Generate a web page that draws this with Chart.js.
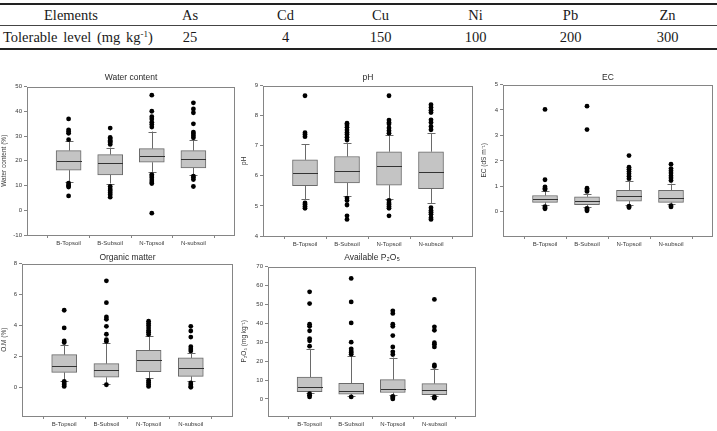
<!DOCTYPE html>
<html><head><meta charset="utf-8">
<script src="https://cdn.jsdelivr.net/npm/chart.js@4.4.1/dist/chart.umd.min.js"></script>
<style>
html,body{margin:0;padding:0;background:#fff;}
body{width:717px;height:431px;position:relative;overflow:hidden;}
#tbl{position:absolute;left:0;top:3px;width:717px;border-collapse:separate;border-spacing:0;table-layout:fixed;font-family:"Liberation Serif","Times New Roman",serif;font-size:14.5px;color:#1a1a1a;}
#tbl td{padding:0;text-align:center;vertical-align:middle;white-space:nowrap;}
#tbl tr.r1 td{border-top:2px solid #222;border-bottom:1px solid #444;height:20px;}
#tbl tr.r2 td{border-bottom:2px solid #222;height:22px;}
#tbl td.first2{text-align:left;padding-left:3px;word-spacing:2px;}
#tbl sup{font-size:9px;vertical-align:5px;line-height:0;}
.panel{position:absolute;}
</style>
</head><body>
<table id="tbl">
<colgroup><col style="width:142px"><col style="width:96px"><col style="width:95px"><col style="width:95px"><col style="width:95px"><col style="width:95px"><col style="width:99px"></colgroup>
<tr class="r1"><td>Elements</td><td>As</td><td>Cd</td><td>Cu</td><td>Ni</td><td>Pb</td><td>Zn</td></tr>
<tr class="r2"><td class="first2">Tolerable level (mg kg<sup>-1</sup>)</td><td>25</td><td>4</td><td>150</td><td>100</td><td>200</td><td>300</td></tr>
</table>

<script>
const categories = ['B-Topsoil', 'B-Subsoil', 'N-Topsoil', 'N-subsoil'];

// Water content (%)
const waterQ1 = [16.2, 14.3, 19.4, 17.1];
const waterMedian = [19.8, 18.9, 21.9, 20.9];
const waterQ3 = [24.1, 22.5, 24.9, 24.1];
const waterLow = [11.6, 10.8, 15.5, 14.3];
const waterHigh = [27.8, 25.3, 31.8, 28.5];
const waterOutliers = [
  [36.9, 32.5, 31.8, 31.1, 28.5, 11.0, 10.2, 9.8, 9.4, 5.8],
  [33.2, 29.4, 28.9, 28.2, 27.8, 27.3, 26.6, 9.6, 8.6, 7.9, 7.1, 6.3, 5.3],
  [46.5, 40.0, 37.8, 36.9, 35.6, 34.6, 33.6, 14.4, 13.8, 13.1, 12.2, 11.4, 10.8, -1.2],
  [43.4, 40.9, 39.4, 34.9, 31.6, 30.9, 30.1, 29.3, 13.8, 13.2, 12.4, 9.6]
];
const waterTicks = [-10, 0, 10, 20, 30, 40, 50];

// pH
const phQ1 = [5.67, 5.76, 5.69, 5.57];
const phMedian = [6.09, 6.15, 6.31, 6.12];
const phQ3 = [6.53, 6.64, 6.80, 6.80];
const phLow = [5.22, 5.34, 5.24, 5.09];
const phHigh = [7.04, 7.10, 7.36, 7.41];
const phOutliers = [
  [8.66, 7.43, 7.37, 7.30, 5.10, 5.05, 4.98, 4.92],
  [7.75, 7.69, 7.61, 7.52, 7.44, 7.37, 7.28, 7.19, 5.26, 5.18, 5.03, 4.67, 4.55],
  [8.66, 7.85, 7.77, 7.72, 7.59, 7.50, 7.41, 5.18, 5.10, 5.05, 4.98, 4.92, 4.67],
  [8.36, 8.27, 8.18, 8.10, 7.86, 7.77, 7.64, 7.53, 4.94, 4.85, 4.79, 4.72, 4.61, 4.55]
];
const phTicks = [4, 5, 6, 7, 8, 9];

// EC (dS m-1)
const ecQ1 = [0.37, 0.28, 0.42, 0.37];
const ecMedian = [0.49, 0.42, 0.62, 0.55];
const ecQ3 = [0.64, 0.59, 0.84, 0.84];
const ecLow = [0.26, 0.20, 0.28, 0.30];
const ecHigh = [0.82, 0.71, 1.20, 1.11];
const ecOutliers = [
  [4.02, 1.26, 0.98, 0.93, 0.88, 0.20, 0.15, 0.12],
  [4.15, 3.23, 0.93, 0.86, 0.80, 0.13, 0.08, 0.04],
  [2.21, 1.75, 1.67, 1.58, 1.49, 1.40, 1.30, 0.22, 0.17],
  [1.87, 1.70, 1.61, 1.52, 1.42, 1.33, 1.23, 0.24, 0.19]
];
const ecTicks = [0, 1, 2, 3, 4, 5];

// Organic matter (%)
const omQ1 = [0.97, 0.65, 1.01, 0.71];
const omMedian = [1.40, 1.10, 1.79, 1.23];
const omQ3 = [2.11, 1.53, 2.39, 1.90];
const omLow = [0.43, 0.24, 0.58, 0.39];
const omHigh = [2.72, 2.89, 3.30, 2.24];
const omOutliers = [
  [4.98, 3.84, 3.00, 2.89, 0.39, 0.28, 0.17, 0.06],
  [6.88, 5.47, 4.55, 4.40, 3.94, 3.43, 3.08, 2.97, 0.17],
  [4.27, 4.12, 3.99, 3.84, 3.68, 3.56, 3.41, 0.45, 0.32, 0.19, 0.06],
  [3.94, 3.64, 3.25, 2.63, 2.48, 2.35, 0.28, 0.17, 0.06, 0.0]
];
const omTicks = [0, 2, 4, 6, 8];

// Available P2O5 (mg kg-1)
const pQ1 = [3.9, 2.6, 3.4, 2.3];
const pMedian = [6.5, 4.4, 5.5, 4.6];
const pQ3 = [11.6, 8.3, 10.2, 8.1];
const pLow = [3.4, 1.6, 1.9, 1.6];
const pHigh = [26.3, 22.6, 21.9, 16.0];
const pOutliers = [
  [56.6, 50.4, 39.5, 38.4, 36.0, 31.9, 30.7, 27.9, 2.8, 1.9, 1.1],
  [63.7, 51.3, 40.2, 30.0, 26.5, 25.4, 24.5, 23.6, 1.1],
  [46.6, 45.2, 39.5, 38.4, 33.5, 27.5, 24.9, 23.5, 1.4, 0.7, 0.0],
  [52.6, 38.1, 36.3, 29.7, 28.9, 27.5, 18.0, 17.2, 1.1, 0.4]
];
const pTicks = [0, 10, 20, 30, 40, 50, 60, 70];

const FONT = '"Liberation Sans", Arial, sans-serif';
const BOX_FILL = '#c4c4c4', BOX_LINE = '#6a6a6a', FRAME = '#858585', TXT = '#383838';

const framePlugin = {
  id: 'frame',
  beforeDatasetsDraw(chart) {
    const a = chart.chartArea, ctx = chart.ctx;
    ctx.save();
    ctx.strokeStyle = FRAME; ctx.lineWidth = 1;
    ctx.strokeRect(Math.round(a.left) + 0.5, Math.round(a.top) + 0.5, Math.round(a.right - a.left) - 1, Math.round(a.bottom - a.top) - 1);
    ctx.restore();
  }
};

const boxPlugin = {
  id: 'boxParts',
  afterDatasetDraw(chart, args) {
    if (args.meta.type !== 'bar') return;
    const st = chart.options.plugins.boxParts;
    const xs = chart.scales.x, ys = chart.scales.y, ctx = chart.ctx;
    ctx.save();
    ctx.lineWidth = 1;
    categories.forEach((c, i) => {
      const x = Math.round(xs.getPixelForValue(i + 1)) + 0.5;
      const yq1 = ys.getPixelForValue(st.q1[i]), yq3 = ys.getPixelForValue(st.q3[i]);
      const ylo = ys.getPixelForValue(st.lo[i]), yhi = ys.getPixelForValue(st.hi[i]);
      const ymed = Math.round(ys.getPixelForValue(st.med[i])) + 0.5;
      ctx.strokeStyle = BOX_LINE;
      ctx.beginPath();
      ctx.moveTo(x, yq3); ctx.lineTo(x, yhi);
      ctx.moveTo(x, yq1); ctx.lineTo(x, ylo);
      ctx.moveTo(x - 4, Math.round(yhi) + 0.5); ctx.lineTo(x + 4, Math.round(yhi) + 0.5);
      ctx.moveTo(x - 4, Math.round(ylo) + 0.5); ctx.lineTo(x + 4, Math.round(ylo) + 0.5);
      ctx.stroke();
      ctx.strokeStyle = '#333';
      ctx.beginPath();
      ctx.moveTo(x - 12.5, ymed); ctx.lineTo(x + 12.5, ymed);
      ctx.stroke();
    });
    ctx.restore();
  }
};

function makePanel(p) {
  const pt = 1, pb = p.T - 4 - p.titleY;
  const titleH = 8 + pt + pb;
  const w = p.yW + (p.R - p.L) + 3;
  const h = titleH + (p.B - p.T) + 14;
  const div = document.createElement('div');
  div.className = 'panel';
  div.style.left = (p.L - p.yW) + 'px';
  div.style.top = (p.T - titleH) + 'px';
  div.style.width = w + 'px';
  div.style.height = h + 'px';
  const cv = document.createElement('canvas');
  cv.width = w; cv.height = h;
  cv.style.width = w + 'px'; cv.style.height = h + 'px';
  div.appendChild(cv);
  document.body.appendChild(div);

  const boxes = categories.map((c, i) => ({ x: i + 1, y: [p.q1[i], p.q3[i]] }));
  const pts = [];
  p.out.forEach((arr, i) => arr.forEach(v => pts.push({ x: i + 1, y: v })));

  const gridOpts = { display: true, drawOnChartArea: false, drawTicks: true, tickLength: 3, color: FRAME, lineWidth: 1 };

  new Chart(cv, {
    type: 'bar',
    data: {
      datasets: [
        { type: 'scatter', data: pts, pointRadius: 2.4, pointHoverRadius: 2.4, backgroundColor: '#000', borderWidth: 0 },
        { type: 'bar', data: boxes, backgroundColor: BOX_FILL, borderColor: BOX_LINE, borderWidth: 1, borderSkipped: false, barThickness: 25, grouped: false }
      ]
    },
    options: {
      responsive: false, maintainAspectRatio: false, animation: false, devicePixelRatio: 1,
      layout: { padding: { left: 0, right: 3, top: 0, bottom: 0 } },
      plugins: {
        legend: { display: false }, tooltip: { enabled: false },
        title: { display: true, text: p.title, fullSize: false, color: '#2a2a2a', font: { family: FONT, size: 8.5, weight: 'normal', lineHeight: 1 }, padding: { top: pt, bottom: pb } },
        boxParts: { q1: p.q1, q3: p.q3, med: p.med, lo: p.lo, hi: p.hi }
      },
      scales: {
        x: {
          type: 'linear', min: 0, max: 5, offset: false,
          afterBuildTicks: s => { s.ticks = categories.map((c, i) => ({ value: i + 1 })); },
          afterFit: s => { s.height = 14; },
          ticks: { callback: v => categories[v - 1], font: { family: FONT, size: 6 }, color: TXT, padding: 2, autoSkip: false, maxRotation: 0, minRotation: 0 },
          grid: gridOpts, border: { display: false }
        },
        y: {
          type: 'linear', min: p.yMin, max: p.yMax,
          afterBuildTicks: s => { s.ticks = p.ticks.map(v => ({ value: v })); },
          afterFit: s => { s.width = p.yW; },
          ticks: { font: { family: FONT, size: 6 }, color: TXT, padding: 2 },
          grid: gridOpts, border: { display: false },
          title: { display: true, text: p.yTitle, color: TXT, font: { family: FONT, size: 6.5, lineHeight: 1.1 }, padding: { top: 1, bottom: 0 } }
        }
      }
    },
    plugins: [framePlugin, boxPlugin]
  });
}

makePanel({ title: 'Water content', yTitle: 'Water content (%)', q1: waterQ1, med: waterMedian, q3: waterQ3, lo: waterLow, hi: waterHigh, out: waterOutliers, ticks: waterTicks, yMin: -10, yMax: 50, L: 27, T: 86, R: 235, B: 235, yW: 27, titleY: 77 });
makePanel({ title: 'pH', yTitle: 'pH', q1: phQ1, med: phMedian, q3: phQ3, lo: phLow, hi: phHigh, out: phOutliers, ticks: phTicks, yMin: 4, yMax: 9, L: 263, T: 85, R: 473, B: 236, yW: 23, titleY: 77 });
makePanel({ title: 'EC', yTitle: 'EC (dS m\u207B\u00B9)', q1: ecQ1, med: ecMedian, q3: ecQ3, lo: ecLow, hi: ecHigh, out: ecOutliers, ticks: ecTicks, yMin: -0.95, yMax: 5, L: 503, T: 84, R: 713, B: 236, yW: 23, titleY: 77 });
makePanel({ title: 'Organic matter', yTitle: 'O.M (%)', q1: omQ1, med: omMedian, q3: omQ3, lo: omLow, hi: omHigh, out: omOutliers, ticks: omTicks, yMin: -1.85, yMax: 8, L: 22, T: 263, R: 233, B: 416, yW: 22, titleY: 257 });
makePanel({ title: 'Available P\u2082O\u2085', yTitle: 'P\u2082O\u2085 (mg kg\u207B\u00B9)', q1: pQ1, med: pMedian, q3: pQ3, lo: pLow, hi: pHigh, out: pOutliers, ticks: pTicks, yMin: -9, yMax: 70, L: 268, T: 266, R: 476, B: 416, yW: 28, titleY: 257 });
</script>
</body></html>
